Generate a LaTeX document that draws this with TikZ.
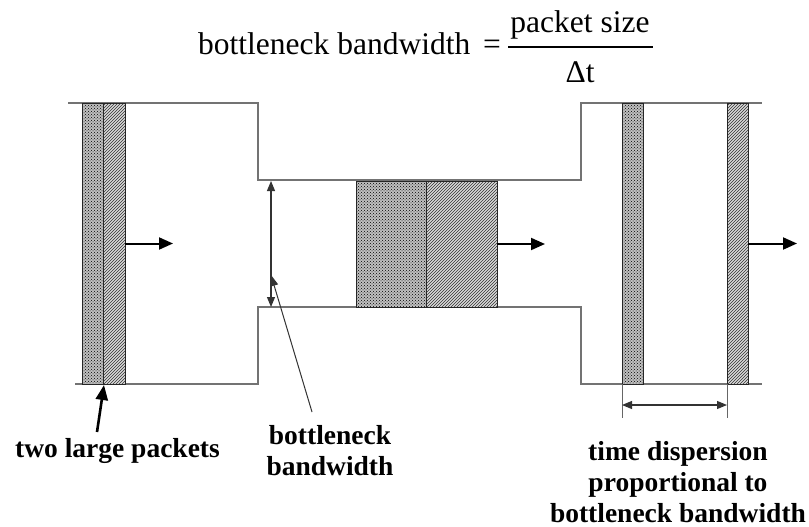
\documentclass[tikz,border=0pt]{standalone}
\usepackage{fontspec}
\setmainfont{Liberation Serif}
\usetikzlibrary{arrows.meta,patterns}
\begin{document}
\begin{tikzpicture}[x=1pt,y=-1pt,
  pipe/.style={draw=black!55,line width=1.4pt},
  pkt/.style={draw=black!85,line width=0.9pt,inner sep=0pt,outer sep=0pt,anchor=north west},
  pktdot/.style={pkt,preaction={fill=black!25},pattern=crosshatch dots,pattern color=black},
  pkthatch/.style={pkt,preaction={fill=black!15},pattern=north east lines,pattern color=black!80},
  mvarrow/.style={draw=black,line width=2pt,-{Triangle[length=14pt,width=12pt]}},
  dimarrow/.style={draw=black!80,line width=1.1pt,{Triangle[length=10pt,width=8pt]}-{Triangle[length=10pt,width=8pt]}},
  ptr/.style={draw=black!80,line width=1pt,-{Triangle[length=11pt,width=8pt]}},
  ptrthick/.style={draw=black,line width=2.6pt,-{Triangle[length=15pt,width=12pt]}},
  extline/.style={draw=black!60,line width=1pt},
  lbl/.style={font=\fontsize{27.5}{31}\selectfont\bfseries,align=center,inner sep=0pt},
  frm/.style={font=\fontsize{31.5}{37}\selectfont,inner sep=0pt}
]
\useasboundingbox[fill=white] (0,0) rectangle (809,527);

% formula
\node[frm,anchor=base west] (flhs) at (198,55) {bottleneck bandwidth};
\node[frm,anchor=base] (feq) at (492,55) {=};
\node[frm,anchor=base] (fnum) at (580,33) {packet size};
\node[frm,anchor=base] (fden) at (580,82) {Δt};
\coordinate (fbl) at (508,47);
\coordinate (fbr) at (653,47);
\draw[line width=1.3pt] (fbl) -- (fbr);

% pipe outline
\draw[pipe] (68,103) -- (258,103) -- (258,180) -- (581,180) -- (581,103) -- (762,103);
\draw[pipe] (75,384) -- (258,384) -- (258,307) -- (581,307) -- (581,384) -- (762,384);

% packets
\node[pktdot,minimum width=21pt,minimum height=281pt] (p1a) at (82,103) {};
\node[pkthatch,minimum width=22pt,minimum height=281pt] (p1b) at (103,103) {};
\node[pktdot,minimum width=70pt,minimum height=126pt] (p2a) at (356,181) {};
\node[pkthatch,minimum width=71pt,minimum height=126pt] (p2b) at (426,181) {};
\node[pktdot,minimum width=21pt,minimum height=281pt] (p3a) at (622,103) {};
\node[pkthatch,minimum width=21pt,minimum height=281pt] (p3b) at (727,103) {};

% motion arrows
\coordinate (m1) at (173,243.5);
\coordinate (m2) at (545,244);
\coordinate (m3) at (797,243.5);
\draw[mvarrow] (p1b.east) -- (m1);
\draw[mvarrow] (p2b.east) -- (m2);
\draw[mvarrow] (p3b.east) -- (m3);

% bottleneck dimension
\coordinate (bt) at (271,181);
\coordinate (bb) at (271,307);
\draw[dimarrow] (bt) -- (bb);

% labels (base = last line)
\node[lbl,anchor=base] (ltwo) at (117.5,457) {two large packets};
\node[lbl,anchor=base] (lbw) at (330,475) {bottleneck\\bandwidth};
\node[lbl,anchor=base] (ltd) at (678,522) {time dispersion\\proportional to\\bottleneck bandwidth};

% pointers
\coordinate (ptwo) at (97,432);
\coordinate (ptwotip) at (104,385);
\draw[ptrthick] (ptwo) -- (ptwotip);
\coordinate (pbw) at (312,412);
\coordinate (pbwtip) at (271,275);
\draw[ptr] (pbw) -- (pbwtip);

% dispersion
\coordinate (d1) at (622,418);
\coordinate (d2) at (727,418);
\draw[extline] (p3a.south west) -- (d1);
\draw[extline] (p3b.south west) -- (d2);
\coordinate (da) at (622,405);
\coordinate (db) at (727,405);
\draw[dimarrow] (da) -- (db);
\end{tikzpicture}
\end{document}
